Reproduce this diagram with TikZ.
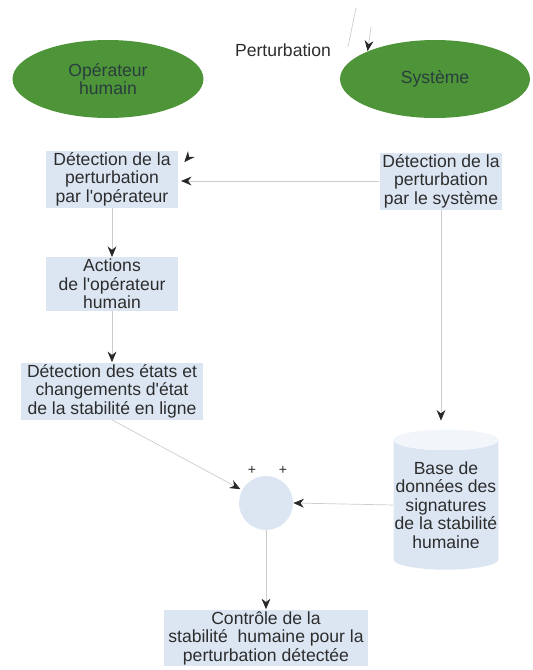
\documentclass[tikz,border=0pt]{standalone}
\usepackage{fontspec}
\setmainfont{Liberation Sans}
\usetikzlibrary{shapes.geometric,arrows.meta}

\definecolor{ovalgreen}{RGB}{78,148,56}
\definecolor{ovaltext}{RGB}{40,62,62}
\definecolor{boxblue}{RGB}{220,230,243}
\definecolor{capwhite}{RGB}{242,245,250}
\definecolor{textgray}{RGB}{45,45,45}
\definecolor{linegray}{RGB}{205,205,205}
\definecolor{tipdark}{RGB}{40,40,40}

\newcommand{\apos}{\textquotesingle}

\begin{document}
\begin{tikzpicture}[x=0.02cm, y=-0.02cm,
    txt/.style={font=\fontsize{10}{10.5}\selectfont, text=textgray, align=center},
    oval/.style={ellipse, fill=ovalgreen, txt, text=ovaltext, minimum width=3.82cm, minimum height=1.56cm, inner sep=0pt},
    bluebox/.style={rectangle, fill=boxblue, txt, inner sep=1pt, minimum height=1.06cm},
    link/.style={draw=linegray, line width=0.4pt, -{Stealth[length=6pt, width=5pt, color=tipdark]}}]
    \useasboundingbox (0,0) rectangle (533,670);

    % acteurs et perturbation
    \node[oval] (oper) at (108,79) {Opérateur\\humain};
    \node[oval, minimum width=3.8cm] (syst) at (435,79) {Système};
    \node[txt] (pert) at (283,50) {Perturbation};
    \coordinate (ptop) at (356,8);
    \coordinate (pbot) at (348,47);
    \coordinate (parr) at (371,27);
    \draw[linegray, line width=0.4pt] (ptop) -- (pbot);
    \draw[link] (parr) -- (syst.north west);

    % detection
    \node[bluebox, minimum width=2.64cm, minimum height=1.14cm] (detop) at (112,179) {Détection de la\\perturbation\\par l\apos opérateur};
    \node[bluebox, minimum width=2.46cm] (detsys) at (441,181) {Détection de la\\perturbation\\par le système};
    \node[bluebox, minimum width=2.66cm, minimum height=1.04cm] (act) at (112,284) {Actions\\de l\apos opérateur\\humain};
    \node[bluebox, minimum width=3.64cm] (etats) at (112,391) {Détection des états et\\changements d\apos état\\de la stabilité en ligne};

    \draw[link, draw=white] (pert) -- ([xshift=3.4pt,yshift=-6.8pt]detop.north east);
    \draw[link, shorten >=1.5pt] (detsys.west) -- (detsys.west -| detop.east);
    \draw[link] (detop) -- (act);
    \draw[link] (act) -- (etats);

    % comparaison avec la base
    \node[circle, fill=boxblue, minimum size=1.08cm, inner sep=0pt] (sum) at (266,503) {};
    \node[font=\fontsize{8}{8}\selectfont, text=textgray] (plusa) at (252,470) {+};
    \node[font=\fontsize{8}{8}\selectfont, text=textgray] (plusb) at (283,470) {+};
    \node[shape=cylinder, shape border rotate=90, aspect=0.2, cylinder uses custom fill,
        cylinder body fill=boxblue, cylinder end fill=capwhite,
        minimum width=2.1cm, minimum height=2.8cm, txt, inner sep=0pt] (bdd) at (446,505)
        {Base de\\données des\\signatures\\de la stabilité\\humaine};
    \node[bluebox, minimum width=4.08cm, minimum height=1.0cm] (ctrl) at (266,638) {Contrôle de la\\stabilité\ \ humaine pour la\\perturbation détectée};

    \draw[link] (detsys.south) -- ([yshift=5pt]detsys.south |- bdd.north);
    \draw[link, shorten >=1pt] (etats.south) -- (sum);
    \draw[link] (bdd.west) -- (sum.east);
    \draw[link] (sum) -- (ctrl);
\end{tikzpicture}
\end{document}
